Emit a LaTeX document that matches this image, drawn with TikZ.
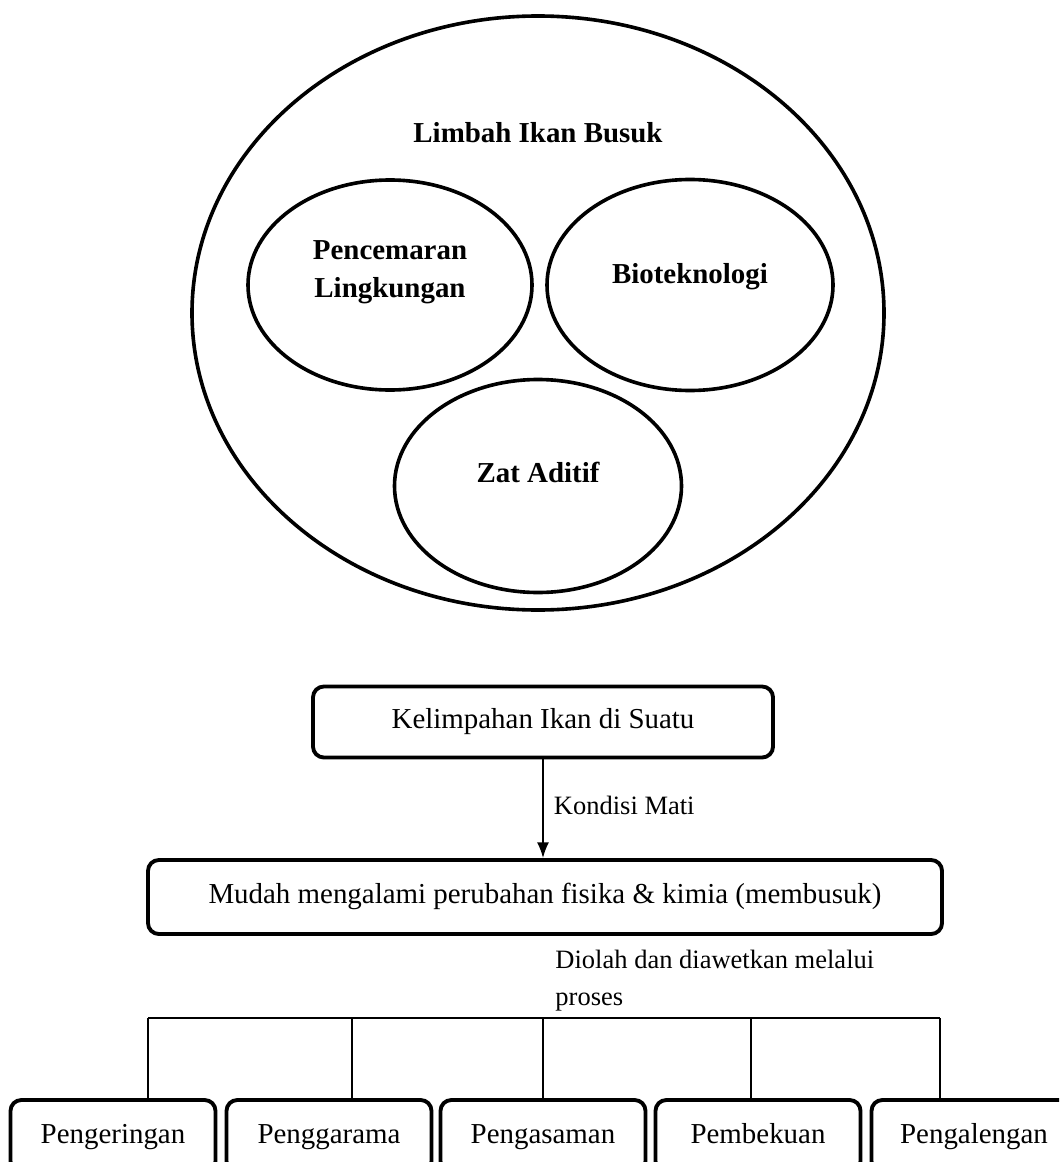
\documentclass[tikz,border=0pt]{standalone}
\usepackage{fontspec}
\setmainfont{Liberation Serif}
\usetikzlibrary{shapes.geometric,arrows.meta}

\def\px{0.415pt}
\tikzset{
  ring/.style={draw, ellipse, line width=1.5pt, inner sep=0pt},
  ringtext/.style={font=\fontsize{12}{16}\selectfont\bfseries, align=center},
  stagebox/.style={draw, rounded corners=4.5pt, line width=1.6pt, inner sep=0pt,
    text height=8.4pt, text depth=2.6pt, font=\fontsize{12}{14}\selectfont},
  link/.style={line width=0.65pt},
  note/.style={font=\fontsize{11}{15.4}\selectfont, align=left, inner sep=0pt}
}

\begin{document}
\begin{tikzpicture}[x=0.415pt, y=-0.415pt]
\useasboundingbox (0,0) rectangle (1059,1162);
\clip (0,0) rectangle (1059,1162);

% rings
\node[ring, minimum width=692*\px, minimum height=594*\px] (limbah) at (538,313) {};
\node[ringtext] (limbahtxt) at (538,133) {Limbah Ikan Busuk};
\node[ring, minimum width=284*\px, minimum height=210*\px] (cemar) at (390,285) {};
\node[ringtext] (cemartxt) at (390,272) {Pencemaran\\Lingkungan};
\node[ring, minimum width=286*\px, minimum height=211*\px] (biotek) at (690,285) {};
\node[ringtext] (biotektxt) at (690,277) {Bioteknologi};
\node[ring, minimum width=287*\px, minimum height=213*\px] (aditif) at (538,486) {};
\node[ringtext] (aditiftxt) at (538,472) {Zat Aditif};

% flow
\node[stagebox, minimum width=460*\px, minimum height=71*\px] (ikan) at (543,722) {Kelimpahan Ikan di Suatu};
\node[stagebox, minimum width=794*\px, minimum height=74*\px] (busuk) at (545,897) {Mudah mengalami perubahan fisika \& kimia (membusuk)};
\draw[line width=0.8pt, -{Latex[length=6.5pt,width=5pt]}] (ikan.south) -- (ikan.south |- busuk.north)
  node[note, right, pos=0.47, xshift=10*\px] {Kondisi Mati};
\node[note, anchor=west] (diolah) at (555,981) {Diolah dan diawetkan melalui\\proses};

% processes
\foreach \n/\x/\t in {p1/113/Pengeringan, p2/329/Penggarama, p3/543/Pengasaman,
                      p4/758/Pembekuan, p5/974/Pengalengan}
  \node[stagebox, minimum width=205*\px, minimum height=72*\px] (\n) at (\x,1136) {\t};

\coordinate (busL) at (148,1018);
\coordinate (busR) at (940,1018);
\draw[link] (busL) -- (busR);
\foreach \x/\n in {148/p1, 352/p2, 543/p3, 751/p4, 940/p5} {
  \coordinate (drop) at (\x,1018);
  \draw[link] (drop) -- (drop |- \n.north);
}
\end{tikzpicture}
\end{document}
